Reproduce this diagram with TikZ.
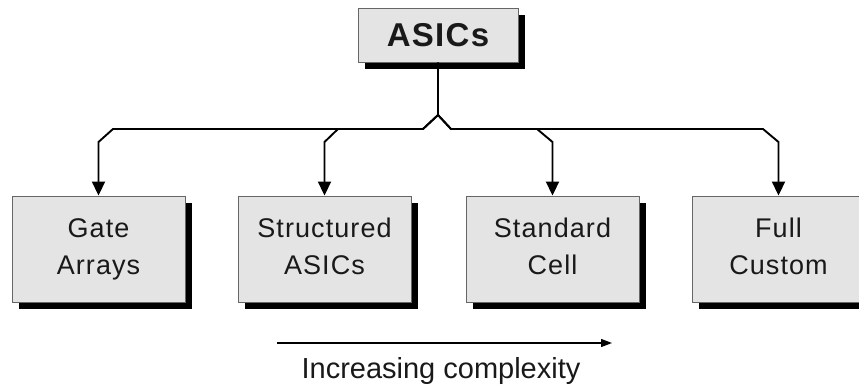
\documentclass[tikz,border=0pt]{standalone}
\usepackage{fontspec}
\setmainfont{Liberation Sans}
\newfontfamily\boxfont[LetterSpace=4]{Liberation Sans}
\usetikzlibrary{arrows.meta,shadows}
\definecolor{boxfill}{HTML}{E4E4E4}
\definecolor{boxline}{HTML}{666666}
\begin{document}
\begin{tikzpicture}[x=1pt,y=1pt,
  block/.style={draw=boxline, line width=0.9pt, fill=boxfill, inner sep=0pt,
    align=center, text=black!90,
    drop shadow={shadow xshift=7pt, shadow yshift=-7pt, fill=black, opacity=1}},
  leaf/.style={block, minimum width=173pt, minimum height=106pt,
    font=\boxfont\fontsize{27}{37}\selectfont},
  bus/.style={line width=1.9pt, line join=miter, -{Triangle[width=13pt,length=14pt]}},
  trend/.style={line width=1.3pt, -{Triangle[width=8pt,length=11pt]}}]
  \useasboundingbox (0,0) rectangle (859,-385);

  % root
  \node[block, minimum width=160pt, minimum height=54pt,
    font=\boxfont\bfseries\fontsize{33}{40}\selectfont] (root) at (438,-35) {ASICs};

  % leaves (struts keep the two text lines at the same height in every box)
  \node[leaf] (ga) at (98.5,-249)  {\strut Gate\\\strut Arrays};
  \node[leaf] (sa) at (324.5,-249) {\strut Structured\\\strut ASICs};
  \node[leaf] (sc) at (552.5,-249) {\strut Standard\\\strut Cell};
  \node[leaf] (fc) at (778.5,-249) {\strut Full\\\strut Custom};

  % bus junction points
  \coordinate (peak) at (root.south |- 0,-115);
  \coordinate (jl) at (423,-129);
  \coordinate (jr) at (451,-129);

  % connectors
  \draw[bus] (root.south) -- (peak) -- (jl) -- (113,-129) -- (ga.north |- 0,-142) -- (ga.north);
  \draw[bus] (peak) -- (jl) -- (338,-129) -- (sa.north |- 0,-142) -- (sa.north);
  \draw[bus] (peak) -- (jr) -- (537,-129) -- (sc.north |- 0,-142) -- (sc.north);
  \draw[bus] (peak) -- (jr) -- (763,-129) -- (fc.north |- 0,-142) -- (fc.north);

  % complexity trend
  \coordinate (t0) at (277,-343);
  \coordinate (t1) at (612,-343);
  \draw[trend] (t0) -- (t1);
  \node[anchor=base, inner sep=0pt, font=\fontsize{29}{34}\selectfont, text=black!90]
    (lbl) at (441,-378) {Increasing complexity};
\end{tikzpicture}
\end{document}
